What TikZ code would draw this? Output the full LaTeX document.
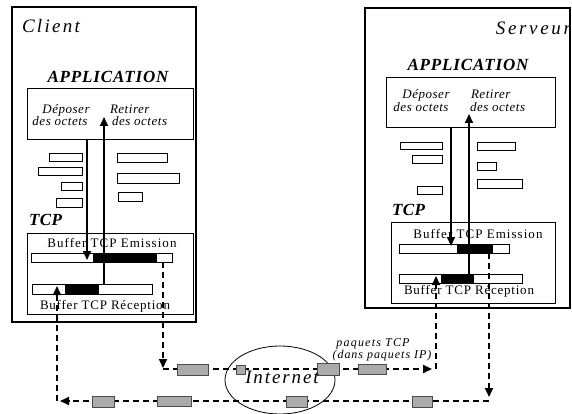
\documentclass[tikz,border=0pt]{standalone}
\usepackage{fontspec}
\setmainfont{Liberation Serif}
\usetikzlibrary{arrows.meta,shapes.geometric}
% font size and letter spacing in one go
\newcommand\ftsz[2]{\fontsize{#1}{#1}\selectfont\addfontfeature{LetterSpace=#2}}
% rectangle node given by its corners: name, x1, y1, x2, y2, style
\newcommand\pbox[6]{\node[#6, minimum width={(#4-#2)*1pt}, minimum height={(#5-#3)*1pt}] (#1) at ({(#2+#4)/2},{(#3+#5)/2}) {};}
\begin{document}
\begin{tikzpicture}[x=1pt,y=-1pt,
  frame/.style={draw, line width=2pt, inner sep=0, outer sep=0},
  inner/.style={draw, line width=0.9pt, fill=white, inner sep=0, outer sep=0},
  blk/.style={draw, fill=black, line width=0.9pt, inner sep=0, outer sep=0},
  pkt/.style={draw=black!70, fill=black!33, line width=0.9pt, inner sep=0, outer sep=0},
  flow/.style={line width=2pt, -{Triangle[length=9pt,width=8pt]}},
  wire/.style={line width=2pt, dash pattern=on 6pt off 4pt, -{Triangle[length=9pt,width=8pt]}},
  lbl/.style={inner sep=0, outer sep=0}]
\useasboundingbox (0,0) rectangle (572,414);

% hosts
\pbox{client}{12}{7}{196}{322}{frame}
\pbox{server}{365}{8}{570}{308}{frame}

% application and TCP layers
\pbox{appC}{27}{88}{193}{139}{inner}
\pbox{appS}{386}{77}{555}{127}{inner}
\pbox{tcpC}{27}{233}{193}{314}{inner}
\pbox{tcpS}{391}{222}{555}{303}{inner}

% application data blocks, client side
\pbox{cb1}{49}{153}{82}{161}{inner}
\pbox{cb2}{38}{167}{82}{175}{inner}
\pbox{cb3}{61}{182}{82}{190}{inner}
\pbox{cb4}{56}{198}{82}{207}{inner}
\pbox{cb5}{117}{153}{167}{162}{inner}
\pbox{cb6}{117}{173}{179}{183}{inner}
\pbox{cb7}{118}{192}{142}{201}{inner}

% application data blocks, server side
\pbox{sb1}{400}{142}{442}{149}{inner}
\pbox{sb2}{412}{155}{442}{163}{inner}
\pbox{sb3}{417}{186}{442}{194}{inner}
\pbox{sb4}{477}{142}{515}{150}{inner}
\pbox{sb5}{477}{162}{496}{170}{inner}
\pbox{sb6}{477}{179}{522}{188}{inner}

% TCP buffers with their filled part
\pbox{emC}{31}{253}{172}{262}{inner}
\pbox{emCf}{93}{253}{156}{262}{blk}
\pbox{reC}{32}{284}{152}{294}{inner}
\pbox{reCf}{65}{284}{98}{294}{blk}
\pbox{emS}{399}{244}{509}{253}{inner}
\pbox{emSf}{457}{244}{492}{253}{blk}
\pbox{reS}{399}{274}{522}{283}{inner}
\pbox{reSf}{441}{274}{473}{283}{blk}

% the network
\node[draw, ellipse, line width=0.8pt, minimum width=110pt, minimum height=68pt, inner sep=0] (internet) at (280,380) {};

% application <-> buffer transfers
\coordinate (dC) at (87,260);
\coordinate (uC) at (104,117);
\coordinate (dS) at (451,246);
\coordinate (uS) at (469,114);
\draw[flow] (appC.south -| dC) -- (dC);
\draw[flow] (reC.north -| uC) -- (uC);
\draw[flow] (appS.south -| dS) -- (dS);
\draw[flow] (reS.north -| uS) -- (uS);

% segments travelling through the network
\coordinate (k1) at (163,369);
\coordinate (t1) at (163,368);
\coordinate (t2) at (432,369);
\coordinate (k2) at (436,369);
\coordinate (t3) at (436,276);
\coordinate (k3) at (489,401);
\coordinate (t4) at (489,397);
\coordinate (t5) at (60,401);
\coordinate (k4) at (57,401);
\coordinate (t6) at (57,286);
\draw[wire] (emC.south -| t1) -- (t1);
\draw[wire] (k1) -- (t2);
\draw[wire] (k2) -- (t3);
\draw[wire] (emS.south -| t4) -- (t4);
\draw[wire] (k3) -- (t5);
\draw[wire] (k4) -- (t6);

% packets
\pbox{p1}{177}{364}{208}{375}{pkt}
\pbox{p2}{236}{365}{245}{374}{pkt}
\pbox{p3}{317}{363}{339}{375}{pkt}
\pbox{p4}{358}{364}{386}{374}{pkt}
\pbox{p5}{92}{396}{114}{407}{pkt}
\pbox{p6}{157}{396}{191}{406}{pkt}
\pbox{p7}{286}{396}{307}{407}{pkt}
\pbox{p8}{412}{396}{432}{407}{pkt}

% labels
\node[lbl, anchor=base west] (tClient) at (22,33) {\itshape\ftsz{19}{12}Client};
\node[lbl, anchor=base east] (tServeur) at (571,35) {\itshape\ftsz{19}{14}Serveur};
\node[lbl, anchor=base] (tAppC) at (108,83) {\bfseries\itshape\ftsz{17}{5}APPLICATION};
\node[lbl, anchor=base] (tAppS) at (468,71) {\bfseries\itshape\ftsz{17}{5}APPLICATION};
\node[lbl, anchor=base] (tDepC1) at (66,114) {\itshape\ftsz{13}{4}Déposer};
\node[lbl, anchor=base] (tDepC2) at (60,126) {\itshape\ftsz{13}{4}des octets};
\node[lbl, anchor=base west] (tRetC1) at (110,114) {\itshape\ftsz{13}{4}Retirer};
\node[lbl, anchor=base west] (tRetC2) at (112,126) {\itshape\ftsz{13}{4}des octets};
\node[lbl, anchor=base] (tDepS1) at (426,99) {\itshape\ftsz{13}{4}Déposer};
\node[lbl, anchor=base] (tDepS2) at (421,112) {\itshape\ftsz{13}{4}des octets};
\node[lbl, anchor=base west] (tRetS1) at (471,99) {\itshape\ftsz{13}{4}Retirer};
\node[lbl, anchor=base west] (tRetS2) at (470,112) {\itshape\ftsz{13}{4}des octets};
\node[lbl, anchor=base west] (tTcpC) at (29,225) {\bfseries\itshape\ftsz{17}{3}TCP};
\node[lbl, anchor=base west] (tTcpS) at (392,215) {\bfseries\itshape\ftsz{17}{3}TCP};
\node[lbl, anchor=base] (tEmC) at (112,247) {\ftsz{13}{8}Buffer TCP Emission};
\node[lbl, anchor=base] (tReC) at (105,309) {\ftsz{13}{6}Buffer TCP Réception};
\node[lbl, anchor=base] (tEmS) at (478,238) {\ftsz{13}{8}Buffer TCP Emission};
\node[lbl, anchor=base] (tReS) at (469,294) {\ftsz{13}{6}Buffer TCP Réception};
\node[lbl, anchor=base] (tNet) at (282,383) {\itshape\ftsz{19}{10}Internet};
\node[lbl, anchor=base] (tPk1) at (373,346) {\itshape\ftsz{12}{10}paquets TCP};
\node[lbl, anchor=base] (tPk2) at (382,358) {\itshape\ftsz{12}{8}(dans paquets IP)};
\end{tikzpicture}
\end{document}
